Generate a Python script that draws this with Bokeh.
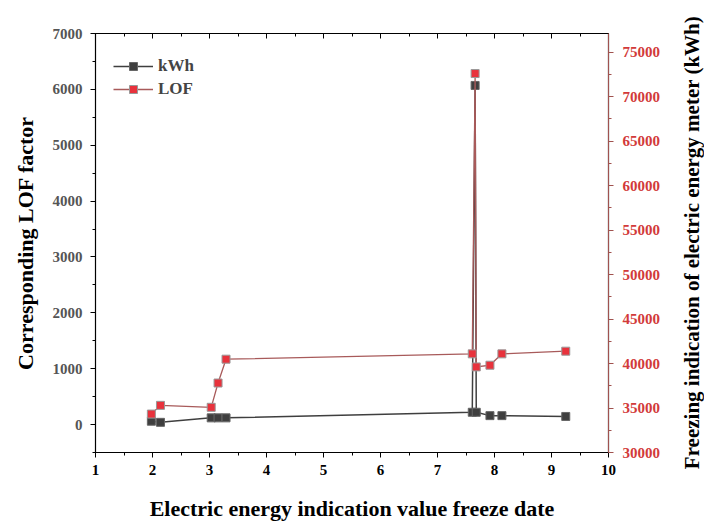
import math
from bokeh.plotting import figure
from bokeh.models import (Range1d, LinearAxis, SingleIntervalTicker, Legend, LegendItem,
                          CustomLabelingPolicy, Label)
from bokeh.embed import file_html
from bokeh.resources import INLINE

dates = [1.98, 2.14, 3.03, 3.15, 3.29, 7.61, 7.66, 7.68, 7.92, 8.13, 9.25]
kwh = [60, 40, 120, 120, 120, 220, 6070, 220, 160, 160, 145]
lof = [34320, 35300, 35080, 37810, 40490, 41090, 72600, 39620, 39810, 41090, 41390]

FONT = "Liberation Serif"
DARK = "#3f3f3f"
RED_LINE = "#a85a5a"
RED_MARK = "#e8323c"
RED_AXIS = "#a0524f"
RED_TEXT = "#d23a3a"

W, H = 704, 523
FL, FT, FB = 95, 33, 453

p = figure(width=W, height=H, output_backend="svg", toolbar_location=None,
           x_range=Range1d(1, 10), y_range=Range1d(-500, 7000),
           min_border_left=FL, min_border_right=96, min_border_top=FT,
           min_border_bottom=H - FB)
p.grid.visible = False
p.outline_line_color = "black"
p.outline_line_width = 1.2
p.background_fill_color = "white"

p.extra_y_ranges = {"right": Range1d(30000, 77100)}

# left axis
ya = p.yaxis[0]
ya.ticker = SingleIntervalTicker(interval=1000, num_minor_ticks=2)
ya.axis_label = "Corresponding LOF factor"
ya.axis_label_text_font = FONT
ya.axis_label_text_font_style = "bold"
ya.axis_label_text_font_size = "22px"
ya.axis_label_text_color = "black"
ya.major_label_text_font = FONT
ya.major_label_text_font_style = "bold"
ya.major_label_text_font_size = "15px"
ya.major_label_text_color = "#555555"
ya.axis_line_color = "black"
ya.major_tick_in = 0
ya.major_tick_out = 5
ya.minor_tick_in = 0
ya.minor_tick_out = 3
ya.major_label_standoff = 8
ya.axis_label_standoff = 12

# bottom axis
xa = p.xaxis[0]
xa.ticker = SingleIntervalTicker(interval=1, num_minor_ticks=2)
xa.axis_label = "Electric energy indication value freeze date"
xa.axis_label_text_font = FONT
xa.axis_label_text_font_style = "bold"
xa.axis_label_text_font_size = "22px"
xa.axis_label_text_color = "black"
xa.major_label_text_font = FONT
xa.major_label_text_font_style = "bold"
xa.major_label_text_font_size = "15px"
xa.major_label_text_color = "black"
xa.major_tick_in = 0
xa.major_tick_out = 5
xa.minor_tick_in = 0
xa.minor_tick_out = 3
xa.major_label_standoff = 7
xa.axis_label_standoff = 18

# top axis (ticks only)
ta = LinearAxis(ticker=SingleIntervalTicker(interval=1, num_minor_ticks=2))
ta.major_label_policy = CustomLabelingPolicy(code="""
for (const i of indices) { indices.unset(i) }
return indices
""")
ta.major_tick_in = 5
ta.major_tick_out = 0
ta.minor_tick_in = 3
ta.minor_tick_out = 0
ta.axis_line_color = "black"
p.add_layout(ta, "above")

# right axis
ra = LinearAxis(y_range_name="right", ticker=SingleIntervalTicker(interval=5000, num_minor_ticks=2))
ra.major_label_text_font = FONT
ra.major_label_text_font_style = "bold"
ra.major_label_text_font_size = "15px"
ra.major_label_text_color = RED_TEXT
ra.axis_line_color = RED_AXIS
ra.major_tick_line_color = RED_AXIS
ra.minor_tick_line_color = RED_AXIS
ra.major_tick_in = 0
ra.major_tick_out = 5
ra.minor_tick_in = 0
ra.minor_tick_out = 3
ra.major_label_standoff = 9
p.add_layout(ra, "right")

# right axis title, reading bottom to top
rlabel = Label(x=28, y=210, x_units="screen", y_units="screen",
               text="Freezing indication of electric energy meter (kWh)",
               angle=math.pi / 2, text_align="center", text_baseline="middle",
               text_font=FONT, text_font_style="bold", text_font_size="21px",
               text_color="black")
p.add_layout(rlabel, "right")

l1 = p.line(dates, kwh, line_color=DARK, line_width=1.5)
s1 = p.scatter(dates, kwh, marker="square", size=8, fill_color=DARK, line_color="#666666")
l2 = p.line(dates, lof, line_color=RED_LINE, line_width=1.3, y_range_name="right")
s2 = p.scatter(dates, lof, marker="square", size=8, fill_color=RED_MARK, line_color="#999999",
               y_range_name="right")

fh = FB - FT
legend = Legend(items=[LegendItem(label="kWh", renderers=[l1, s1]),
                       LegendItem(label="LOF", renderers=[l2, s2])],
                location=(18, fh - 24 - 43))
legend.border_line_alpha = 0
legend.background_fill_alpha = 0
legend.label_text_font = FONT
legend.label_text_font_style = "bold"
legend.label_text_font_size = "17px"
legend.glyph_width = 40
legend.label_height = 20
legend.glyph_height = 20
legend.spacing = 3
legend.margin = 0
legend.padding = 0
p.add_layout(legend, "center")

open("out.html", "w").write(file_html(p, INLINE))
